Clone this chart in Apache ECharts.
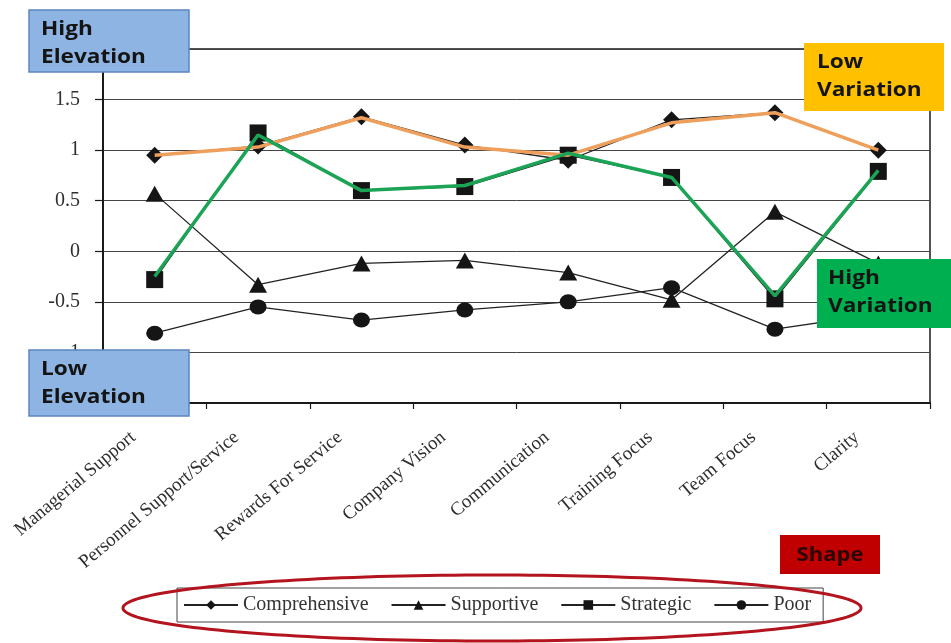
<!DOCTYPE html>
<html>
<head>
<meta charset="utf-8">
<script src="https://cdn.jsdelivr.net/npm/echarts@6/dist/echarts.min.js"></script>
<style>
  html, body { margin: 0; padding: 0; background: #ffffff; }
  #chart { width: 951px; height: 643px; }
</style>
</head>
<body>
<div id="chart"></div>
<script>
// Organisational climate profiles across eight dimensions
const categories = [
  'Managerial Support', 'Personnel Support/Service', 'Rewards For Service',
  'Company Vision', 'Communication', 'Training Focus', 'Team Focus', 'Clarity'
];
const comprehensive = [0.95, 1.04, 1.33, 1.05, 0.90, 1.30, 1.37, 1.00];
const supportive    = [0.57, -0.33, -0.12, -0.09, -0.21, -0.48, 0.39, -0.12];
const strategic     = [-0.28, 1.17, 0.60, 0.64, 0.95, 0.73, -0.47, 0.79];
const poor          = [-0.81, -0.55, -0.68, -0.58, -0.50, -0.36, -0.77, -0.62];

// Highlight traces drawn over the two contrasting profiles
const lowVariationTrace  = [0.95, 1.03, 1.32, 1.03, 0.95, 1.27, 1.37, 1.00];
const highVariationTrace = [-0.25, 1.15, 0.60, 0.65, 0.97, 0.73, -0.44, 0.80];

const legendNames = ['Comprehensive', 'Supportive', 'Strategic', 'Poor'];
const yMin = -1.5, yMax = 2, yStep = 0.5;

const serif = '"Liberation Serif", "DejaVu Serif", serif';
const sans = '"Open Sans", "Noto Sans", sans-serif';

function profile(name, data, symbol, size) {
  return {
    name: name,
    type: 'line',
    data: data,
    symbol: symbol,
    symbolSize: size,
    itemStyle: { color: '#151515' },
    lineStyle: { color: '#222222', width: 1.3 },
    emphasis: { disabled: true },
    z: 3
  };
}

function trace(data, color) {
  return {
    type: 'line',
    data: data,
    symbol: 'none',
    lineStyle: { color: color, width: 3.5 },
    emphasis: { disabled: true },
    silent: true,
    z: 6
  };
}

// Callout box: coloured rectangle with two bold lines of text
function noteBox(x, y, w, h, fill, stroke, lines, tx, baseline) {
  const items = [{
    type: 'rect', z: 100, silent: true,
    shape: { x: x, y: y, width: w, height: h },
    style: { fill: fill, stroke: stroke || null, lineWidth: stroke ? 1.5 : 0 }
  }];
  lines.forEach(function (t, i) {
    items.push({
      type: 'text', z: 101, silent: true,
      x: tx, y: baseline + i * 28 - 7,
      scaleX: 1.13,
      style: {
        text: t, fill: '#141414', font: 'bold 20px ' + sans,
        textVerticalAlign: 'middle'
      }
    });
  });
  return items;
}

// Ellipse outline around the legend
const ell = { cx: 492, cy: 608, rx: 369, ry: 33 };
const ellPoints = [];
for (let i = 0; i < 180; i++) {
  const a = (i / 180) * Math.PI * 2;
  ellPoints.push([ell.cx + ell.rx * Math.cos(a), ell.cy + ell.ry * Math.sin(a)]);
}

const chart = echarts.init(document.getElementById('chart'), null, { renderer: 'canvas' });

chart.setOption({
  animation: false,
  backgroundColor: '#ffffff',
  grid: {
    left: 103, right: 21, top: 49, bottom: 240,
    show: true, borderColor: '#1a1a1a', borderWidth: 1.5
  },
  xAxis: {
    type: 'category',
    data: categories,
    boundaryGap: true,
    axisLine: { show: true, onZero: false, lineStyle: { color: '#1a1a1a', width: 2 } },
    axisTick: { show: true, length: 6, lineStyle: { color: '#1a1a1a', width: 1.2 } },
    axisLabel: {
      interval: 0, rotate: 40, margin: 14,
      padding: [0, 28, 0, 0],
      fontFamily: serif, fontSize: 19, color: '#2e2e2e'
    },
    splitLine: { show: false }
  },
  yAxis: {
    type: 'value',
    min: yMin, max: yMax, interval: yStep,
    axisLine: { show: true, lineStyle: { color: '#1a1a1a', width: 2 } },
    axisTick: { show: true, length: 8, lineStyle: { color: '#1a1a1a', width: 1.2 } },
    axisLabel: { margin: 23, fontFamily: serif, fontSize: 20, color: '#2e2e2e' },
    splitLine: { show: true, lineStyle: { color: '#444444', width: 1 } }
  },
  legend: {
    data: legendNames,
    left: 177, top: 588,
    width: 700,
    orient: 'horizontal',
    borderColor: '#444444', borderWidth: 1,
    padding: [7, 12, 7, 6],
    itemWidth: 54, itemHeight: 12, itemGap: 22,
    textStyle: { fontFamily: serif, fontSize: 20, color: '#333333' },
    selectedMode: false
  },
  series: [
    profile('Comprehensive', comprehensive, 'diamond', 17),
    profile('Supportive', supportive, 'triangle', [18, 16]),
    profile('Strategic', strategic, 'rect', 17),
    profile('Poor', poor, 'circle', [17, 15]),
    trace(lowVariationTrace, '#EF9F5C'),
    trace(highVariationTrace, '#1BA455')
  ],
  graphic: [].concat(
    noteBox(29, 10, 160, 62, '#8DB4E2', '#5A87C0', ['High', 'Elevation'], 41, 36),
    noteBox(29, 350, 160, 66, '#8DB4E2', '#5A87C0', ['Low', 'Elevation'], 41, 376),
    noteBox(804, 43, 140, 68, '#FFC000', null, ['Low', 'Variation'], 817, 69),
    noteBox(817, 259, 140, 69, '#00B050', null, ['High', 'Variation'], 828, 285),
    [
      { type: 'rect', z: 100, silent: true,
        shape: { x: 780, y: 535, width: 100, height: 39 }, style: { fill: '#C00000' } },
      {
        type: 'text', z: 101, silent: true, x: 830, y: 555, scaleX: 1.1,
        style: {
          text: 'Shape', fill: '#2a0505', font: 'bold 20px ' + sans,
          textAlign: 'center', textVerticalAlign: 'middle'
        }
      },
      {
        type: 'polygon', z: 90, silent: true,
        shape: { points: ellPoints },
        style: { fill: null, stroke: '#B3141E', lineWidth: 3 }
      }
    ]
  )
});
</script>
</body>
</html>
